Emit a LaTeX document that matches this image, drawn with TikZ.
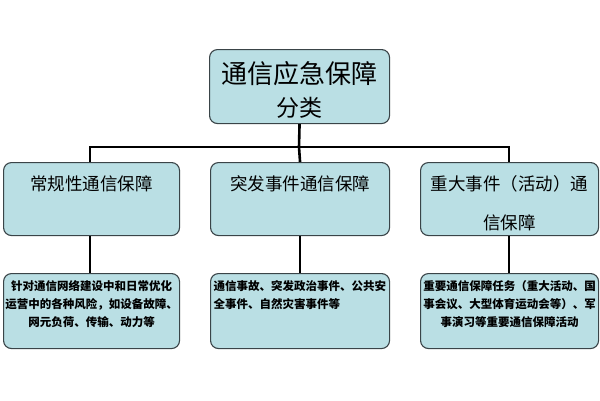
\documentclass[tikz,border=0pt]{standalone}
\usepackage{fontspec}
\newfontfamily\cjk{Noto Sans CJK SC}
\definecolor{boxfill}{HTML}{BADFE4}
\definecolor{boxline}{HTML}{3A4448}
\begin{document}
\begin{tikzpicture}[x=1pt,y=-1pt,
  box/.style={draw=boxline,line width=1.1pt,fill=boxfill,rounded corners=8pt,anchor=north west,inner sep=0pt,font=\cjk},
  conn/.style={line width=2.6pt,black}]
\useasboundingbox (0,0) rectangle (600,400);
\node[box] (top) at (209,49) {\parbox[c][74pt][t]{180pt}{\centering\vspace{12pt}\fontsize{26}{34}\selectfont 通信应急保障\\[-1pt]\fontsize{23}{34}\selectfont 分类\par}};
\node[box] (m1) at (3,162) {\parbox[c][73pt][t]{176pt}{\centering\vspace{13pt}\fontsize{17.5}{39}\selectfont 常规性通信保障\par}};
\node[box] (m2) at (210,162) {\parbox[c][73pt][t]{179pt}{\centering\vspace{13pt}\fontsize{17.5}{39}\selectfont 突发事件通信保障\par}};
\node[box] (m3) at (420,162) {\parbox[c][73pt][t]{178pt}{\centering\vspace{13pt}\fontsize{17.5}{39}\selectfont 重大事件（活动）通\\信保障\par}};
\node[box] (b1) at (3,273) {\parbox[c][75pt][t]{176pt}{\centering\vspace{7pt}\fontsize{11.5}{18}\selectfont\bfseries 针对通信网络建设中和日常优化\\运营中的各种风险，如设备故障、\\网元负荷、传输、动力等\par}};
\node[box] (b2) at (210,273) {\parbox[c][75pt][t]{179pt}{\raggedright\vspace{7pt}\hspace*{3pt}\fontsize{11.5}{18}\selectfont\bfseries 通信事故、突发政治事件、公共安\\\hspace*{3pt}全事件、自然灾害事件等\par}};
\node[box] (b3) at (420,273) {\parbox[c][75pt][t]{178pt}{\centering\vspace{7pt}\fontsize{11.5}{18}\selectfont\bfseries 重要通信保障任务（重大活动、国\\事会议、大型体育运动会等）、军\\事演习等重要通信保障活动\par}};
\coordinate (j) at (299,147);
\draw[conn] (top.south) -- (j);
\draw[conn] (m1.north -| 90,0) |- (j) -| (m3.north -| 509,0);
\draw[conn] (j) -- (m2.north);
\draw[conn] (m1.south -| 90,0) -- (b1.north -| 90,0);
\draw[conn] (m2.south) -- (b2.north);
\draw[conn] (m3.south -| 509,0) -- (b3.north -| 509,0);
\end{tikzpicture}
\end{document}
